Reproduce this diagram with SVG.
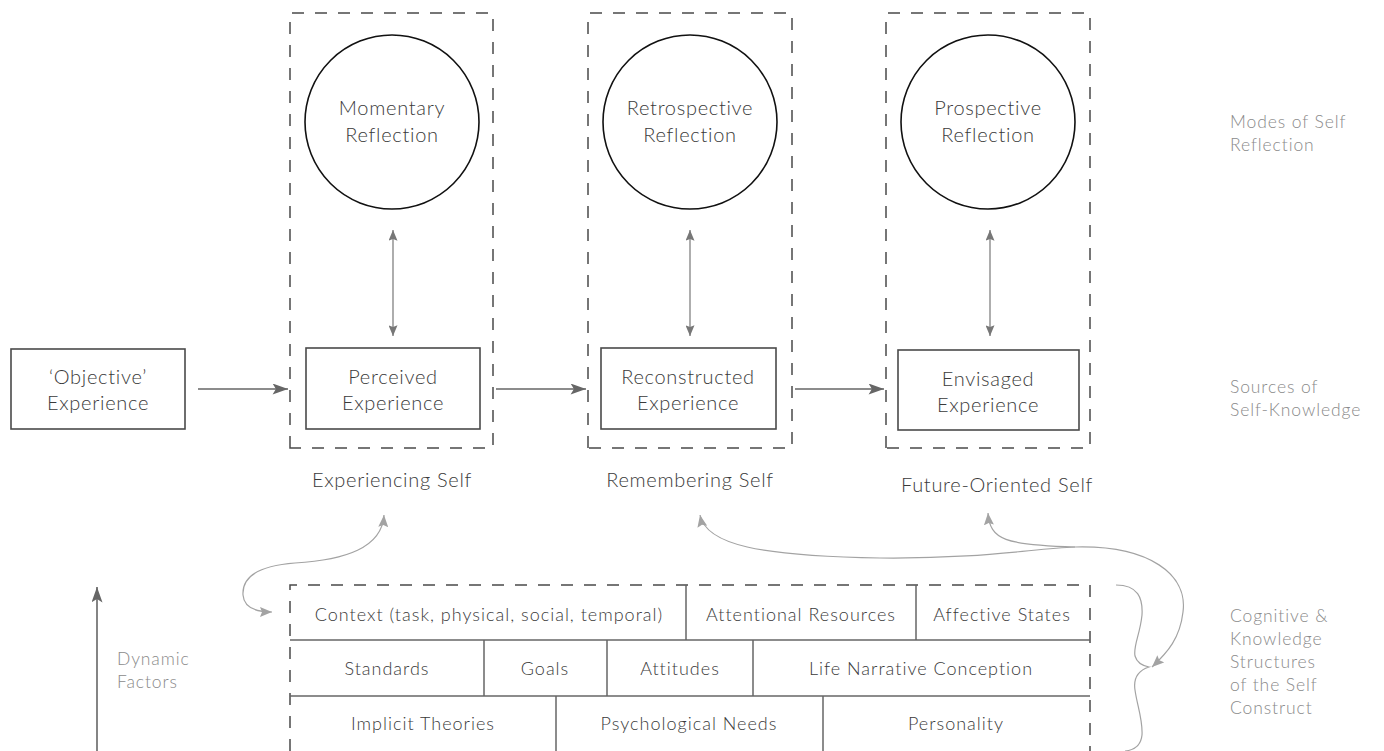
<svg xmlns="http://www.w3.org/2000/svg" width="1384" height="751" viewBox="0 0 1384 751">
<defs>
<style>
text{font-family:Lato,"Open Sans","Liberation Sans",sans-serif;font-weight:300;}
.t{font-size:20px;letter-spacing:0.7px;fill:#3a3a3a;text-anchor:middle;}
.tc{font-size:18px;letter-spacing:1px;fill:#3a3a3a;text-anchor:middle;}
.lab{font-size:17.5px;letter-spacing:0.9px;fill:#8a8a8a;}
.dash{fill:none;stroke:#4a4a4a;stroke-width:1.5;stroke-dasharray:12 11;}
.box{fill:#fff;stroke:#4a4a4a;stroke-width:1.6;}
.circ{fill:#fff;stroke:#111;stroke-width:1.6;}
.solid{stroke:#666;stroke-width:1.5;fill:none;}
.harrow{stroke:#666;stroke-width:1.6;fill:none;marker-end:url(#ah);}
.varrow{stroke:#777;stroke-width:1.2;fill:none;marker-start:url(#vh);marker-end:url(#vh);}
.curve{stroke:#a3a3a3;stroke-width:1.2;fill:none;}
</style>
<marker id="ah" viewBox="0 0 14 10" refX="14" refY="5" markerWidth="16" markerHeight="11" markerUnits="userSpaceOnUse" orient="auto"><path d="M0,0 L14,5 L0,10 L3,5 Z" fill="#666"/></marker>
<marker id="vh" viewBox="0 0 12 10" refX="12" refY="5" markerWidth="12" markerHeight="9" markerUnits="userSpaceOnUse" orient="auto-start-reverse"><path d="M0,0 L12,5 L0,10 L2,5 Z" fill="#777"/></marker>
<marker id="ch" viewBox="0 0 12 10" refX="12" refY="5" markerWidth="12" markerHeight="10" markerUnits="userSpaceOnUse" orient="auto-start-reverse"><path d="M0,0 L12,5 L0,10 L2,5 Z" fill="#a3a3a3"/></marker>
</defs>
<rect width="1384" height="751" fill="#fff"/>

<g id="experiencing-self">
<path class="dash" d="M290,448 L290,13 L493,13 L493,448 Z"/>
<text class="t" x="392" y="487">Experiencing Self</text>
</g>
<g id="remembering-self">
<path class="dash" d="M588,448 L588,13 L792,13 L792,448 Z"/>
<text class="t" x="690" y="487">Remembering Self</text>
</g>
<g id="future-self">
<path class="dash" d="M886,448 L886,13 L1090,13 L1090,448 Z"/>
<text class="t" x="997" y="492">Future-Oriented Self</text>
</g>

<g id="momentary-reflection">
<circle class="circ" cx="392" cy="122" r="87"/>
<text class="t" x="392" y="115">Momentary</text>
<text class="t" x="392" y="142">Reflection</text>
</g>
<g id="retrospective-reflection">
<circle class="circ" cx="690" cy="122" r="87"/>
<text class="t" x="690" y="115">Retrospective</text>
<text class="t" x="690" y="142">Reflection</text>
</g>
<g id="prospective-reflection">
<circle class="circ" cx="988" cy="122" r="87"/>
<text class="t" x="988" y="115">Prospective</text>
<text class="t" x="988" y="142">Reflection</text>
</g>

<g id="objective-experience">
<rect class="box" x="11" y="349" width="174" height="80"/>
<text class="t" x="98" y="384">‘Objective’</text>
<text class="t" x="98" y="410">Experience</text>
</g>
<g id="perceived-experience">
<rect class="box" x="306" y="348" width="174" height="81"/>
<text class="t" x="393" y="384">Perceived</text>
<text class="t" x="393" y="410">Experience</text>
</g>
<g id="reconstructed-experience">
<rect class="box" x="601" y="348" width="175" height="81"/>
<text class="t" x="688" y="384">Reconstructed</text>
<text class="t" x="688" y="410">Experience</text>
</g>
<g id="envisaged-experience">
<rect class="box" x="898" y="350" width="181" height="80"/>
<text class="t" x="988" y="386">Envisaged</text>
<text class="t" x="988" y="412">Experience</text>
</g>

<g id="self-construct-table">
<path class="dash" d="M290,751 L290,585 L1090,585 L1090,751"/>
<line class="solid" x1="290" y1="640" x2="1090" y2="640"/>
<line class="solid" x1="290" y1="696" x2="1090" y2="696"/>
<line class="solid" x1="686" y1="585" x2="686" y2="640"/>
<line class="solid" x1="916" y1="585" x2="916" y2="640"/>
<line class="solid" x1="484" y1="640" x2="484" y2="696"/>
<line class="solid" x1="607" y1="640" x2="607" y2="696"/>
<line class="solid" x1="753" y1="640" x2="753" y2="696"/>
<line class="solid" x1="556" y1="696" x2="556" y2="751"/>
<line class="solid" x1="823" y1="696" x2="823" y2="751"/>
<text class="tc" x="489" y="621">Context (task, physical, social, temporal)</text>
<text class="tc" x="801" y="621">Attentional Resources</text>
<text class="tc" x="1002" y="621">Affective States</text>
<text class="tc" x="387" y="675">Standards</text>
<text class="tc" x="545" y="675">Goals</text>
<text class="tc" x="680" y="675">Attitudes</text>
<text class="tc" x="921" y="675">Life Narrative Conception</text>
<text class="tc" x="423" y="730">Implicit Theories</text>
<text class="tc" x="689" y="730">Psychological Needs</text>
<text class="tc" x="956" y="730">Personality</text>
</g>

<g id="labels">
<text class="lab" x="1230" y="128">Modes of Self</text>
<text class="lab" x="1230" y="151">Reflection</text>
<text class="lab" x="1230" y="393">Sources of</text>
<text class="lab" x="1230" y="416">Self-Knowledge</text>
<text class="lab" x="1230" y="622">Cognitive &amp;</text>
<text class="lab" x="1230" y="645">Knowledge</text>
<text class="lab" x="1230" y="668">Structures</text>
<text class="lab" x="1230" y="691">of the Self</text>
<text class="lab" x="1230" y="714">Construct</text>
<text class="lab" x="117" y="665">Dynamic</text>
<text class="lab" x="117" y="688">Factors</text>
</g>

<g id="connectors">
<line class="harrow" x1="198" y1="389" x2="288" y2="389"/>
<line class="harrow" x1="496" y1="389" x2="586" y2="389"/>
<line class="harrow" x1="795" y1="389" x2="884" y2="389"/>
<line class="varrow" x1="393" y1="230" x2="393" y2="336"/>
<line class="varrow" x1="690" y1="230" x2="690" y2="336"/>
<line class="varrow" x1="990" y1="230" x2="990" y2="336"/>
<line stroke="#666" stroke-width="1.6" x1="97" y1="751" x2="97" y2="587" marker-end="url(#ah)"/>
<path class="curve" marker-start="url(#ch)" marker-end="url(#ch)" d="M384,515 C382,548 345,560 295,563 C255,566 242,578 243,595 C244,608 256,612 272,612"/>
<path class="curve" marker-start="url(#ch)" marker-end="url(#ch)" d="M700,515 C706,545 760,556 880,558 C980,559 1030,549 1075,547 C1150,545 1188,575 1183,612 C1180,638 1168,652 1152,667"/>
<path class="curve" marker-start="url(#ch)" d="M988,513 C990,540 1005,545 1075,547"/>
<path class="curve" d="M1116,585 C1138,585 1143,598 1142,615 C1140,635 1133,646 1135,656 C1137,663 1144,666 1149,667 C1140,670 1133,677 1135,690 C1137,705 1143,720 1142,735 C1141,745 1135,750 1125,751"/>
</g>
</svg>
